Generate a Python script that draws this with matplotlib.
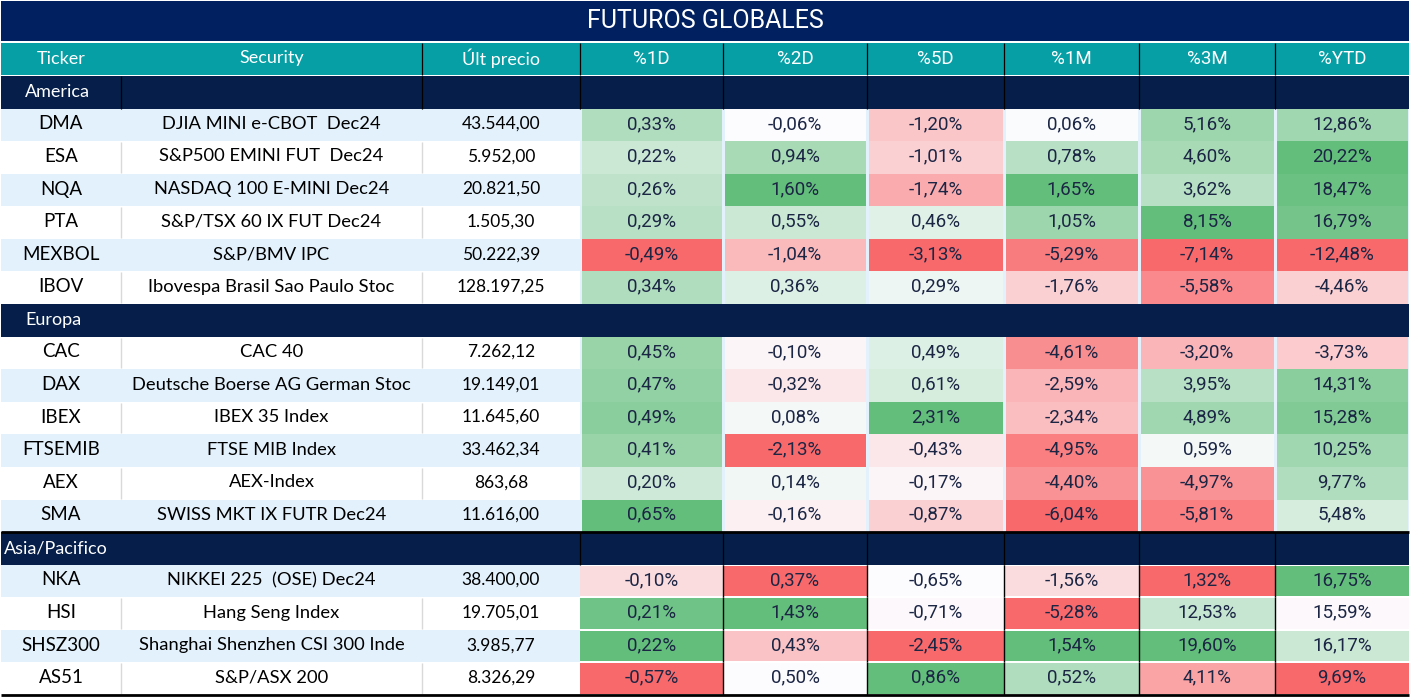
import matplotlib
matplotlib.use("Agg")
import matplotlib.pyplot as plt
from matplotlib.patches import Rectangle
from matplotlib import font_manager as fm

# ---------------- data ----------------
title = "FUTUROS GLOBALES"
headers = ["Ticker", "Security", "Últ precio", "%1D", "%2D", "%5D", "%1M", "%3M", "%YTD"]
sections = ["America", "Europa", "Asia/Pacifico"]
section_sizes = [6, 6, 4]

tickers = ["DMA", "ESA", "NQA", "PTA", "MEXBOL", "IBOV",
           "CAC", "DAX", "IBEX", "FTSEMIB", "AEX", "SMA",
           "NKA", "HSI", "SHSZ300", "AS51"]
securities = ["DJIA MINI e-CBOT  Dec24", "S&P500 EMINI FUT  Dec24", "NASDAQ 100 E-MINI Dec24",
              "S&P/TSX 60 IX FUT Dec24", "S&P/BMV IPC", "Ibovespa Brasil Sao Paulo Stoc",
              "CAC 40", "Deutsche Boerse AG German Stoc", "IBEX 35 Index", "FTSE MIB Index",
              "AEX-Index", "SWISS MKT IX FUTR Dec24",
              "NIKKEI 225  (OSE) Dec24", "Hang Seng Index", "Shanghai Shenzhen CSI 300 Inde",
              "S&P/ASX 200"]
prices = [43544.00, 5952.00, 20821.50, 1505.30, 50222.39, 128197.25,
          7262.12, 19149.01, 11645.60, 33462.34, 863.68, 11616.00,
          38400.00, 19705.01, 3985.77, 8326.29]
pct_1d = [0.33, 0.22, 0.26, 0.29, -0.49, 0.34, 0.45, 0.47, 0.49, 0.41, 0.20, 0.65, -0.10, 0.21, 0.22, -0.57]
pct_2d = [-0.06, 0.94, 1.60, 0.55, -1.04, 0.36, -0.10, -0.32, 0.08, -2.13, 0.14, -0.16, 0.37, 1.43, 0.43, 0.50]
pct_5d = [-1.20, -1.01, -1.74, 0.46, -3.13, 0.29, 0.49, 0.61, 2.31, -0.43, -0.17, -0.87, -0.65, -0.71, -2.45, 0.86]
pct_1m = [0.06, 0.78, 1.65, 1.05, -5.29, -1.76, -4.61, -2.59, -2.34, -4.95, -4.40, -6.04, -1.56, -5.28, 1.54, 0.52]
pct_3m = [5.16, 4.60, 3.62, 8.15, -7.14, -5.58, -3.20, 3.95, 4.89, 0.59, -4.97, -5.81, 1.32, 12.53, 19.60, 4.11]
pct_ytd = [12.86, 20.22, 18.47, 16.79, -12.48, -4.46, -3.73, 14.31, 15.28, 10.25, 9.77, 5.48, 16.75, 15.59, 16.17, 9.69]

# conditional-format shade of each value cell (-1 red ... 0 white ... +1 green), as shown
shade = [
    [0.50, -0.01, -0.37, 0.02, 0.62, 0.60],
    [0.32, 0.55, -0.30, 0.45, 0.55, 1.00],
    [0.40, 1.00, -0.55, 1.00, 0.45, 0.95],
    [0.45, 0.33, 0.18, 0.62, 1.00, 0.88],
    [-1.00, -0.45, -1.00, -0.88, -1.00, -1.00],
    [0.50, 0.20, 0.10, -0.30, -0.78, -0.30],
    [0.65, -0.05, 0.20, -0.75, -0.48, -0.33],
    [0.70, -0.15, 0.25, -0.48, 0.45, 0.75],
    [0.75, 0.05, 1.00, -0.42, 0.60, 0.80],
    [0.65, -1.00, -0.15, -0.85, 0.05, 0.60],
    [0.30, 0.08, -0.05, -0.72, -0.72, 0.50],
    [1.00, -0.08, -0.30, -1.00, -0.85, 0.25],
    [-0.22, -1.00, 0.00, -0.22, -1.00, 1.00],
    [0.92, 1.00, -0.03, -1.00, 0.35, -0.03],
    [1.00, -0.38, -1.00, 1.00, 1.00, 0.33],
    [-1.00, 0.00, 1.00, 0.50, -0.60, -1.00],
]

# ---------------- style ----------------
W, H = 1412, 697
NAVY_T = "#012060"
NAVY_S = "#051f4a"
TEAL = "#069fa6"
LBLUE = "#e3f1fc"
WHITE = "#ffffff"
GRID = "#d9d9d9"
TXT = "#000000"
VTXT = "#1b2544"

def pick(fams):
    have = {f.name for f in fm.fontManager.ttflist}
    for f in fams:
        if f in have:
            return f
    return "DejaVu Sans"

F_TXT = pick(["Lato", "Noto Sans"])
F_NUM = pick(["Liberation Sans Narrow", "Roboto"])
F_TTL = pick(["Liberation Sans Narrow", "Roboto"])

col_edges = [1, 121, 422, 580, 723, 867, 1004, 1139, 1275, 1409]
title_top, title_bot = 1, 41
head_top, head_bot = 43, 75
row_top = 76
n_rows = len(sections) + len(tickers)
row_h = (695 - row_top) / n_rows


def excel_color(t):
    white = (252, 252, 255)
    green = (99, 190, 123)
    red = (248, 105, 107)
    end = green if t >= 0 else red
    a = min(abs(t), 1.0)
    return tuple((w + (e - w) * a) / 255 for w, e in zip(white, end))


def fmt_num(v, dec=2):
    s = f"{v:,.{dec}f}"
    return s.replace(",", "X").replace(".", ",").replace("X", ".")


fig = plt.figure(figsize=(W / 100, H / 100), dpi=100)
ax = fig.add_axes([0, 0, 1, 1])
ax.set_xlim(0, W)
ax.set_ylim(H, 0)
ax.axis("off")
fig.patch.set_facecolor("white")


def rect(x0, y0, x1, y1, color, z=1):
    ax.add_patch(Rectangle((x0, y0), x1 - x0, y1 - y0, facecolor=color, edgecolor="none", zorder=z))


def vline(x, y0, y1, color, lw=1.0, z=3):
    ax.plot([x, x], [y0, y1], color=color, lw=lw, zorder=z, solid_capstyle="butt")


def hline(y, x0, x1, color, lw=1.0, z=3):
    ax.plot([x0, x1], [y, y], color=color, lw=lw, zorder=z, solid_capstyle="butt")


# title
rect(col_edges[0], title_top, col_edges[-1], title_bot, NAVY_T)
ax.text((col_edges[0] + col_edges[-1]) / 2, (title_top + title_bot) / 2, title,
        color="white", fontsize=18, family=F_TTL, ha="center", va="center", zorder=5)

# header
rect(col_edges[0], head_top, col_edges[-1], head_bot, TEAL)
for i, h in enumerate(headers):
    xc = (col_edges[i] + col_edges[i + 1]) / 2
    ax.text(xc, (head_top + head_bot) / 2 - 0.5, h, color="white", fontsize=13 if i < 3 else 13.5,
            family=F_TXT if i < 3 else F_NUM, ha="center", va="center", zorder=5)
for x in col_edges[2:-1]:
    vline(x, head_top, head_bot, "black", lw=0.9)

value_cols = [pct_1d, pct_2d, pct_5d, pct_1m, pct_3m, pct_ytd]

r = 0
k = 0
for s_idx, (sec, n) in enumerate(zip(sections, section_sizes)):
    y0 = row_top + r * row_h
    y1 = y0 + row_h
    rect(col_edges[0], y0, col_edges[-1], y1, NAVY_S)
    ax.text(col_edges[0] + 24 if s_idx < 2 else col_edges[0] + 3, (y0 + y1) / 2, sec,
            color="white", fontsize=13, family=F_TXT, ha="left", va="center", zorder=5)
    if s_idx != 1:
        edges = col_edges[1:-1] if s_idx == 0 else col_edges[3:-1]
        for x in edges:
            vline(x, y0, y1, "black", lw=0.9)
    r += 1
    for j in range(n):
        y0 = row_top + r * row_h
        y1 = y0 + row_h
        bg = LBLUE if (k % 2 == 0) == (s_idx != 1) else WHITE
        if s_idx == 2:
            bg = LBLUE if j % 2 == 0 else WHITE
        rect(col_edges[0], y0, col_edges[3] + 2, y1, bg)
        if bg == WHITE:
            for x in col_edges[1:3]:
                vline(x, y0 + 1, y1 - 1, GRID, lw=1.0)
        yc = (y0 + y1) / 2 - 1.0
        ax.text((col_edges[0] + col_edges[1]) / 2, yc, tickers[k], color=TXT, fontsize=13.5,
                family=F_TXT, ha="center", va="center", zorder=5)
        ax.text((col_edges[1] + col_edges[2]) / 2, yc, securities[k], color=TXT, fontsize=13.2,
                family=F_TXT, ha="center", va="center", zorder=5)
        ax.text((col_edges[2] + col_edges[3]) / 2, yc, fmt_num(prices[k]), color=TXT, fontsize=12.5,
                family=F_TXT, ha="center", va="center", zorder=5)
        for c in range(6):
            x0 = col_edges[3 + c]
            x1 = col_edges[4 + c]
            if s_idx == 2:
                rect(x0, y0, x1, y1, WHITE)
                rect(x0, y0 + 1, x1, y1 - 1, excel_color(shade[k][c]), z=2)
            else:
                rect(x0, y0, x1, y1, LBLUE)
                rect(x0 + 1.5, y0, x1 - 1.5, y1, excel_color(shade[k][c]), z=2)
            ax.text((x0 + x1) / 2, yc, fmt_num(value_cols[c][k]) + "%", color=VTXT,
                    fontsize=13.5, family=F_NUM, ha="center", va="center", zorder=5)
        if s_idx == 2:
            for x in col_edges[4:-1]:
                vline(x, y0, y1, "black", lw=1.0)
        r += 1
        k += 1

# heavy black rules
asia_top = row_top + (section_sizes[0] + section_sizes[1] + 2) * row_h
hline(asia_top, col_edges[0], col_edges[-1], "black", lw=2.0, z=6)
hline(695, col_edges[0], col_edges[-1], "black", lw=2.0, z=6)

fig.savefig("out.png", dpi=100, facecolor="white")
